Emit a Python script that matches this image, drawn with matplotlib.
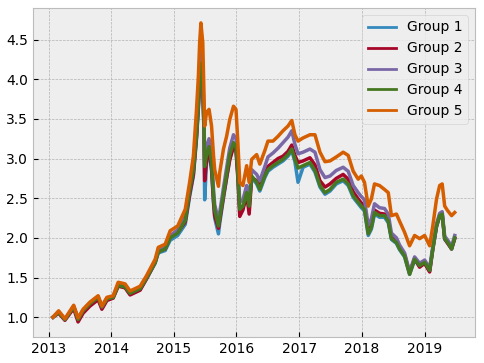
import matplotlib
matplotlib.use("Agg")
import matplotlib.pyplot as plt
import pandas as pd

# dates as decimal years
years = [
    2013.07, 2013.16, 2013.26, 2013.40, 2013.47, 2013.55, 2013.66, 2013.79, 2013.85, 2013.93,
    2014.03, 2014.11, 2014.22, 2014.30, 2014.46, 2014.56, 2014.70, 2014.75, 2014.86, 2014.94,
    2015.06, 2015.18, 2015.25, 2015.31, 2015.36, 2015.39, 2015.41, 2015.43, 2015.46, 2015.48,
    2015.49, 2015.52, 2015.56, 2015.60, 2015.63, 2015.65, 2015.71, 2015.73, 2015.79, 2015.84,
    2015.89, 2015.95, 2015.99, 2016.02, 2016.05, 2016.10, 2016.16, 2016.20, 2016.24, 2016.32,
    2016.37, 2016.45, 2016.50, 2016.58, 2016.66, 2016.74, 2016.82, 2016.88, 2016.93, 2016.98,
    2017.06, 2017.17, 2017.25, 2017.33, 2017.41, 2017.49, 2017.59, 2017.70, 2017.78, 2017.86,
    2017.94, 2017.99, 2018.04, 2018.10, 2018.15, 2018.20, 2018.28, 2018.36, 2018.42, 2018.47,
    2018.55, 2018.60, 2018.68, 2018.76, 2018.84, 2018.92, 2019.00, 2019.08, 2019.13, 2019.19,
    2019.24, 2019.28, 2019.32, 2019.37, 2019.43, 2019.48,
]

group1 = [
    1.00, 1.06, 0.97, 1.13, 0.97, 1.08, 1.17, 1.25, 1.12, 1.23,
    1.25, 1.40, 1.38, 1.30, 1.35, 1.48, 1.68, 1.81, 1.84, 1.97,
    2.03, 2.17, 2.52, 2.78, 3.25, 3.63, 3.95, 4.12, 3.88, 3.30,
    2.48, 2.95, 3.07, 2.85, 2.45, 2.25, 2.05, 2.18, 2.50, 2.75,
    3.00, 3.17, 3.12, 2.78, 2.32, 2.37, 2.55, 2.38, 2.76, 2.68,
    2.59, 2.76, 2.84, 2.89, 2.93, 2.97, 3.03, 3.10, 2.96, 2.70,
    2.89, 2.93, 2.83, 2.64, 2.55, 2.59, 2.68, 2.72, 2.66, 2.51,
    2.43, 2.38, 2.34, 2.03, 2.11, 2.30, 2.26, 2.26, 2.19, 1.98,
    1.93, 1.85, 1.76, 1.54, 1.72, 1.64, 1.68, 1.58, 1.85, 2.14,
    2.27, 2.29, 1.98, 1.93, 1.86, 1.99,
]

group2 = [
    1.00, 1.05, 0.96, 1.11, 0.94, 1.05, 1.14, 1.22, 1.10, 1.21,
    1.24, 1.39, 1.37, 1.28, 1.34, 1.48, 1.69, 1.83, 1.86, 2.01,
    2.07, 2.20, 2.55, 2.80, 3.27, 3.66, 3.97, 4.15, 3.90, 3.33,
    2.72, 2.98, 3.10, 2.88, 2.48, 2.28, 2.12, 2.22, 2.52, 2.76,
    2.98, 3.15, 3.10, 2.75, 2.27, 2.35, 2.55, 2.30, 2.76, 2.72,
    2.64, 2.82, 2.90, 2.95, 3.00, 3.03, 3.09, 3.17, 3.04, 2.95,
    2.97, 3.01, 2.92, 2.72, 2.64, 2.68, 2.75, 2.80, 2.74, 2.58,
    2.49, 2.44, 2.40, 2.08, 2.16, 2.35, 2.31, 2.30, 2.23, 2.01,
    1.96, 1.88, 1.79, 1.56, 1.74, 1.63, 1.68, 1.57, 1.86, 2.15,
    2.28, 2.30, 1.99, 1.93, 1.86, 1.99,
]

group3 = [
    1.00, 1.07, 0.97, 1.14, 0.98, 1.09, 1.18, 1.26, 1.13, 1.24,
    1.26, 1.42, 1.40, 1.31, 1.37, 1.50, 1.71, 1.84, 1.88, 2.03,
    2.10, 2.27, 2.63, 2.92, 3.40, 3.80, 4.15, 4.35, 4.08, 3.50,
    3.00, 3.15, 3.25, 3.03, 2.63, 2.42, 2.22, 2.32, 2.63, 2.88,
    3.13, 3.30, 3.25, 2.92, 2.45, 2.48, 2.66, 2.48, 2.86, 2.80,
    2.72, 2.90, 3.02, 3.07, 3.13, 3.20, 3.27, 3.35, 3.18, 3.06,
    3.08, 3.12, 3.08, 2.86, 2.76, 2.78, 2.85, 2.89, 2.84, 2.66,
    2.57, 2.52, 2.48, 2.16, 2.24, 2.43, 2.38, 2.37, 2.30, 2.06,
    2.00, 1.91, 1.81, 1.57, 1.76, 1.68, 1.72, 1.62, 1.89, 2.18,
    2.31, 2.33, 2.02, 1.97, 1.89, 2.03,
]

group4 = [
    1.00, 1.06, 0.97, 1.13, 0.97, 1.08, 1.17, 1.25, 1.13, 1.23,
    1.25, 1.40, 1.38, 1.30, 1.36, 1.49, 1.69, 1.82, 1.86, 2.00,
    2.06, 2.22, 2.60, 2.85, 3.30, 3.70, 4.00, 4.20, 3.95, 3.40,
    2.90, 3.05, 3.15, 2.95, 2.55, 2.35, 2.15, 2.25, 2.55, 2.80,
    3.05, 3.20, 3.15, 2.82, 2.36, 2.40, 2.57, 2.40, 2.78, 2.70,
    2.61, 2.78, 2.86, 2.91, 2.95, 2.99, 3.05, 3.12, 2.99, 2.88,
    2.91, 2.95, 2.85, 2.66, 2.57, 2.61, 2.70, 2.74, 2.68, 2.53,
    2.45, 2.40, 2.36, 2.05, 2.13, 2.32, 2.28, 2.28, 2.21, 1.99,
    1.94, 1.86, 1.77, 1.54, 1.73, 1.65, 1.69, 1.59, 1.86, 2.15,
    2.28, 2.30, 1.99, 1.94, 1.86, 2.00,
]

group5 = [
    1.00, 1.08, 0.98, 1.15, 0.99, 1.10, 1.19, 1.27, 1.14, 1.25,
    1.27, 1.44, 1.42, 1.33, 1.39, 1.52, 1.73, 1.88, 1.92, 2.09,
    2.15, 2.36, 2.70, 3.03, 3.62, 4.04, 4.46, 4.71, 4.46, 3.79,
    3.41, 3.58, 3.62, 3.41, 3.05, 2.86, 2.65, 2.82, 3.12, 3.28,
    3.49, 3.66, 3.62, 3.20, 2.70, 2.66, 2.91, 2.70, 2.99, 3.05,
    2.93, 3.10, 3.22, 3.22, 3.28, 3.35, 3.41, 3.48, 3.30, 3.22,
    3.26, 3.30, 3.30, 3.08, 2.96, 2.97, 3.02, 3.08, 3.04, 2.84,
    2.74, 2.78, 2.70, 2.40, 2.49, 2.68, 2.66, 2.61, 2.57, 2.28,
    2.30, 2.21, 2.07, 1.90, 2.03, 1.99, 2.03, 1.90, 2.15, 2.49,
    2.66, 2.68, 2.40, 2.34, 2.28, 2.32,
]

labels = ["Group 1", "Group 2", "Group 3", "Group 4", "Group 5"]

dates = [pd.Timestamp("2013-01-01") + pd.Timedelta(days=(y - 2013) * 365.25) for y in years]

plt.style.use("bmh")
fig, ax = plt.subplots(figsize=(4.84, 3.63), dpi=100)

for series, label in zip([group1, group2, group3, group4, group5], labels):
    ax.plot(dates, series, label=label, linewidth=2.5)

leg = ax.legend(loc="upper right")
for line in leg.get_lines():
    line.set_linewidth(2.0)

fig.subplots_adjust(left=0.068, right=0.981, top=0.978, bottom=0.072)
fig.savefig("out.png", dpi=100)
plt.close(fig)
